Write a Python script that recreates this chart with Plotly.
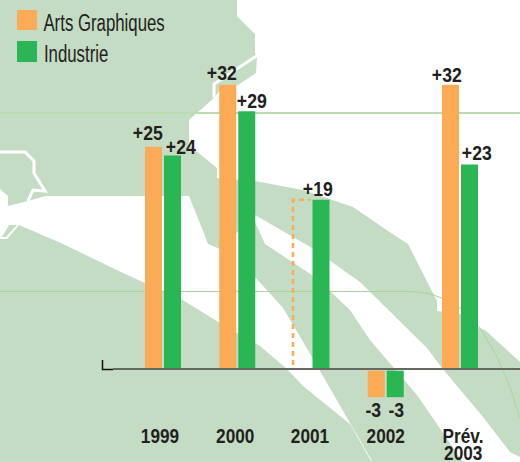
import plotly.graph_objects as go

categories = ["1999", "2000", "2001", "2002", "Prév."]
cat_index = [0, 1, 2, 3, 4]
arts_graphiques = [25, 32, None, -3, 32]
industrie = [24, 29, 19, -3, 23]
arts_labels = ["+25", "+32", None, "-3", "+32"]
industrie_labels = ["+24", "+29", "+19", "-3", "+23"]
estimated_2001 = 19
last_category_line2 = "2003"

W, H = 520, 462
PLOT_BOTTOM = 422
PX_PER_CAT = 74.25
PX_PER_UNIT = 8.85
ZERO_PX = 368
ORANGE, GREEN = "#fbab55", "#2bb656"
LAND = "#c4dcc3"
TEXT = "#231f20"
FONT = "Liberation Sans, Arial, sans-serif"

bar_w = 17 / PX_PER_CAT
orange_off = -18 / PX_PER_CAT
green_off = 1 / PX_PER_CAT
below_gap = [0, 0, 0, -0.3, 0]


def path(pts, close=True):
    d = "M" + " L".join(f"{x / W:.5f},{1 - y / PLOT_BOTTOM:.5f}" for x, y in pts)
    return d + (" Z" if close else "")


def shape(pts, fill=None, line=None, width=0, close=True, layer="below"):
    return dict(type="path", xref="paper", yref="paper", layer=layer,
                path=path(pts, close), fillcolor=fill if fill else "rgba(0,0,0,0)",
                line=dict(color=line if line else "rgba(0,0,0,0)", width=width))


white_top = [(237, 0), (237, 16), (255, 34), (255, 53), (257, 57), (256, 73), (238, 85),
             (222, 88), (214, 98), (197, 113), (189, 120), (189, 145), (217, 168), (217, 178),
             (255, 181), (303, 190), (353, 207), (388, 231), (408, 244), (437, 301), (437, 311),
             (460, 314), (478, 328), (485, 330), (520, 362), (520, 0)]
white_river = [(0, 189), (8, 196), (8, 206), (28, 201), (46, 196), (189, 196), (203, 231),
               (208, 244), (220, 249), (255, 215), (312, 248), (329, 260), (360, 282), (427, 348),
               (442, 368), (483, 417), (510, 452), (520, 457), (520, 462), (463, 462), (417, 395),
               (370, 340), (350, 310), (329, 290), (312, 275), (265, 244), (255, 222), (240, 245),
               (255, 277), (283, 308), (302, 340), (320, 371), (350, 423), (372, 461), (371, 461),
               (350, 424), (303, 386), (287, 369), (260, 346), (220, 323), (181, 299), (145, 283),
               (123, 273), (63, 244), (33, 231), (19, 225), (7, 239), (0, 239)]
islet = [(9, 225), (17, 225), (6, 237), (2, 237)]
strip = [(258, 55), (214, 84), (214, 98)]
coast = [(0, 152), (25, 152), (34, 161), (34, 173), (45, 191), (33, 190), (28, 201)]
curve = [(0, 291.5), (413, 291.5), (430, 294), (442, 298), (460, 308), (480, 328), (497, 357), (510, 387), (520, 418)]

shapes = [
    shape([(0, 0), (W, 0), (W, H), (0, H)], fill=LAND),
    shape(white_top, fill="white"),
    shape(white_river, fill="white"),
    shape(islet, fill=LAND),
    shape(strip, line="white", width=3, close=False),
    shape(coast, line="white", width=3, close=False),
    shape([(0, 113), (W, 113)], line="#b9dcb1", width=2, close=False),
    shape(curve, line="#a8d69c", width=1, close=False),
    shape([(113, 369), (W, 369)], line="#666862", width=2, close=False, layer="above"),
    shape([(102.5, 360), (102.5, 369.5), (113, 369.5)], line="#111111", width=1.5, close=False, layer="above"),
    shape([(17, 10), (37, 10), (37, 30), (17, 30)], fill=ORANGE),
    shape([(17, 41), (37, 41), (37, 62), (17, 62)], fill=GREEN),
]

fig = go.Figure()
fig.add_trace(go.Bar(x=cat_index, y=arts_graphiques, base=below_gap, width=bar_w, offset=orange_off,
                     marker=dict(color=ORANGE, line_width=0), name="Arts Graphiques"))
fig.add_trace(go.Bar(x=cat_index, y=industrie, base=below_gap, width=bar_w, offset=green_off,
                     marker=dict(color=GREEN, line_width=0), name="Industrie"))
# dashed outline of the missing 2001 orange bar
dx_left = cat_index[2] - 18.5 / PX_PER_CAT
dx_right = cat_index[2] - 1 / PX_PER_CAT
fig.add_trace(go.Scatter(x=[dx_left, dx_left, dx_right], y=[0.35, estimated_2001, estimated_2001],
                         mode="lines", line=dict(color=ORANGE, width=2.5, dash="5px,4px"), hoverinfo="skip"))

arts_dx = [-6, -5.5, 0, -3, -3.5]
arts_dy = [14, 12, 0, -12, 10]
ind_dx = [8.5, 5.5, -3.5, 1.5, 7.5]
ind_dy = [9, 11, 11, -12, 12]
annotations = []
VAL_FONT = dict(family=FONT, size=21, color=TEXT)


def add_labels(labels, values, off, dxs, dys):
    for i, lab in enumerate(labels):
        if lab is None:
            continue
        base = below_gap[i]
        annotations.append(dict(x=cat_index[i] + off + bar_w / 2, y=values[i] + base, xref="x", yref="y",
                                text=f"<b>{lab}</b>", showarrow=False, xanchor="center", yanchor="middle",
                                xshift=dxs[i], yshift=dys[i], font=VAL_FONT))


add_labels(arts_labels, arts_graphiques, orange_off, arts_dx, arts_dy)
add_labels(industrie_labels, industrie, green_off, ind_dx, ind_dy)

for label, x_px, y_px in (("Arts Graphiques", 103.7, 23), ("Industrie", 76, 54)):
    annotations.append(dict(x=x_px / W, y=1 - y_px / PLOT_BOTTOM, xref="paper", yref="paper", text=label,
                            showarrow=False, xanchor="center", yanchor="middle",
                            font=dict(family=FONT, size=23, color=TEXT)))

annotations.append(dict(x=cat_index[4] + 3 / PX_PER_CAT, y=1 - 453 / PLOT_BOTTOM, xref="x", yref="paper",
                        text=f"<b>{last_category_line2}</b>", showarrow=False, xanchor="center", yanchor="middle",
                        font=dict(family=FONT, size=20, color=TEXT)))

tick_nudge = [-3, -2, -1.5, 0, 3]
fig.update_layout(
    width=W, height=H, autosize=False, showlegend=False, margin=dict(l=0, r=0, t=0, b=H - PLOT_BOTTOM, pad=0),
    paper_bgcolor="white", plot_bgcolor="rgba(0,0,0,0)", shapes=shapes, annotations=annotations,
    xaxis=dict(range=[-163 / PX_PER_CAT, (W - 163) / PX_PER_CAT], showgrid=False, zeroline=False, showline=False,
               tickmode="array", tickvals=[c + n / PX_PER_CAT for c, n in zip(cat_index, tick_nudge)],
               ticktext=[f"<b>{c}</b>" for c in categories], ticks="", ticklen=0,
               tickfont=dict(family=FONT, size=20, color=TEXT), automargin=False),
    yaxis=dict(range=[-(PLOT_BOTTOM - ZERO_PX) / PX_PER_UNIT, ZERO_PX / PX_PER_UNIT], showgrid=False, zeroline=False,
               showline=False, showticklabels=False, ticks="", automargin=False),
)
post = """
document.documentElement.style.margin='0';document.body.style.margin='0';
function narrow(){document.querySelectorAll('.annotation-text, .xtick text').forEach(function(t){
  if(t.dataset.nr)return;t.dataset.nr='1';
  var fs=parseFloat(getComputedStyle(t).fontSize);var k=fs>22?0.73:(fs>20?0.84:0.86);
  t.setAttribute('lengthAdjust','spacingAndGlyphs');
  t.setAttribute('textLength',(t.getComputedTextLength()*k).toFixed(2));});}
narrow();setTimeout(narrow,50);
"""
fig.write_html("out.html", config=dict(displayModeBar=False), post_script=post)
